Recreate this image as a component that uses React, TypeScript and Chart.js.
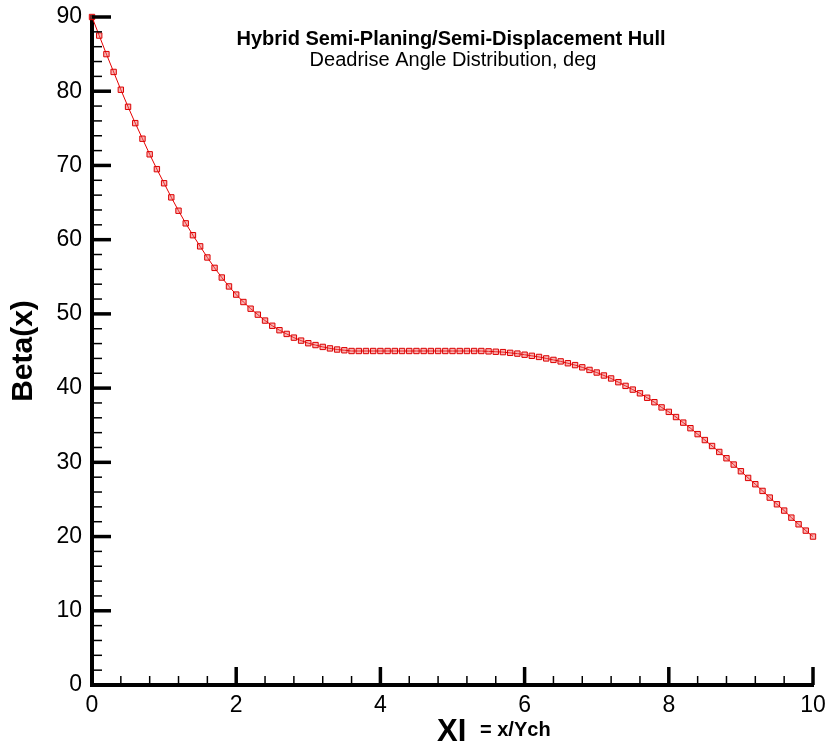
import React, { useEffect, useRef } from "react";
import { Chart, registerables } from "chart.js";

Chart.register(...registerables);

const FONT = "'Liberation Sans', Arial, Helvetica, sans-serif";

const xi = [
  0.0, 0.1, 0.2, 0.3, 0.4, 0.5, 0.6, 0.7, 0.8, 0.9,
  1.0, 1.1, 1.2, 1.3, 1.4, 1.5, 1.6, 1.7, 1.8, 1.9,
  2.0, 2.1, 2.2, 2.3, 2.4, 2.5, 2.6, 2.7, 2.8, 2.9,
  3.0, 3.1, 3.2, 3.3, 3.4, 3.5, 3.6, 3.7, 3.8, 3.9,
  4.0, 4.1, 4.2, 4.3, 4.4, 4.5, 4.6, 4.7, 4.8, 4.9,
  5.0, 5.1, 5.2, 5.3, 5.4, 5.5, 5.6, 5.7, 5.8, 5.9,
  6.0, 6.1, 6.2, 6.3, 6.4, 6.5, 6.6, 6.7, 6.8, 6.9,
  7.0, 7.1, 7.2, 7.3, 7.4, 7.5, 7.6, 7.7, 7.8, 7.9,
  8.0, 8.1, 8.2, 8.3, 8.4, 8.5, 8.6, 8.7, 8.8, 8.9,
  9.0, 9.1, 9.2, 9.3, 9.4, 9.5, 9.6, 9.7, 9.8, 9.9,
  10.0,
];

const beta = [
  90.0, 87.5, 85.0, 82.6, 80.2, 77.9, 75.7, 73.6, 71.5, 69.5,
  67.6, 65.7, 63.9, 62.2, 60.6, 59.1, 57.6, 56.2, 54.9, 53.7,
  52.6, 51.6, 50.7, 49.9, 49.1, 48.4, 47.8, 47.3, 46.8, 46.4,
  46.05, 45.8, 45.55, 45.35, 45.2, 45.1, 45.0, 45.0, 45.0, 45.0,
  45.0, 45.0, 45.0, 45.0, 45.0, 45.0, 45.0, 45.0, 45.0, 45.0,
  45.0, 45.0, 45.0, 45.0, 45.0, 44.95, 44.9, 44.85, 44.75, 44.65,
  44.5, 44.35, 44.2, 44.0, 43.8, 43.6, 43.35, 43.1, 42.8, 42.45,
  42.1, 41.7, 41.3, 40.8, 40.3, 39.8, 39.3, 38.7, 38.1, 37.4,
  36.8, 36.1, 35.35, 34.6, 33.8, 33.0, 32.2, 31.4, 30.55, 29.7,
  28.8, 27.9, 27.05, 26.15, 25.25, 24.35, 23.5, 22.55, 21.65, 20.8,
  20.0,
];

const yTickValues = [0, 10, 20, 30, 40, 50, 60, 70, 80, 90];
const xTickValues = [0, 2, 4, 6, 8, 10];
const yMinorStep = 2;
const xMinorStep = 0.4;

const titleText = "Hybrid Semi-Planing/Semi-Displacement Hull";
const subtitleText = "Deadrise Angle Distribution, deg";
const yTitle = "Beta(x)";
const xTitleMain = "XI";
const xTitleSub = "= x/Ych";

export default function App() {
  const ref = useRef<HTMLCanvasElement>(null);

  useEffect(() => {
    const canvas = ref.current;
    if (!canvas) return;

    const decorPlugin = {
      id: "decor",
      afterDraw(chart: any) {
        const c = chart.ctx as CanvasRenderingContext2D;
        const xs = chart.scales.x;
        const ys = chart.scales.y;
        const { left, bottom } = chart.chartArea;
        c.save();
        c.strokeStyle = "#000";
        c.lineCap = "butt";
        // y ticks (inward)
        for (let k = 0; ; k++) {
          const v = ys.min + k * yMinorStep;
          if (v > ys.max + 1e-9) break;
          const major = yTickValues.some((t) => Math.abs(t - v) < 1e-6);
          const py = ys.getPixelForValue(v);
          c.lineWidth = major ? 3.5 : 1.5;
          c.beginPath();
          c.moveTo(left, py);
          c.lineTo(left + (major ? 19 : 10), py);
          c.stroke();
        }
        // x ticks (inward)
        for (let k = 0; ; k++) {
          const v = xs.min + k * xMinorStep;
          if (v > xs.max + 1e-9) break;
          const major = xTickValues.some((t) => Math.abs(t - v) < 1e-6);
          const px = xs.getPixelForValue(v);
          c.lineWidth = major ? 3.5 : 1.5;
          c.beginPath();
          c.moveTo(px, bottom);
          c.lineTo(px, bottom - (major ? 18 : 9));
          c.stroke();
        }
        // titles
        c.fillStyle = "#000";
        c.textAlign = "center";
        c.textBaseline = "alphabetic";
        c.font = `bold 20px ${FONT}`;
        c.fillText(titleText, 451, 45);
        c.font = `20px ${FONT}`;
        c.fillText(subtitleText, 453, 66);
        // x axis title
        c.textAlign = "left";
        c.font = `bold 31px ${FONT}`;
        c.fillText(xTitleMain, 437, 741);
        c.font = `bold 20px ${FONT}`;
        c.fillText(xTitleSub, 480, 736);
        c.restore();
      },
    };

    const chart = new Chart(canvas, {
      type: "line",
      data: {
        datasets: [
          {
            data: xi.map((x, i) => ({ x, y: beta[i] })),
            borderColor: "rgb(230,0,0)",
            borderWidth: 1,
            pointStyle: "rect",
            pointRadius: 3.8,
            pointBorderWidth: 1,
            pointBorderColor: "rgb(220,0,0)",
            pointBackgroundColor: "rgba(240,90,90,0.45)",
            tension: 0,
            clip: false as any,
          },
        ],
      },
      options: {
        responsive: false,
        animation: false,
        layout: { padding: { left: 0, right: 15, top: 17, bottom: 0 } },
        plugins: {
          legend: { display: false },
          tooltip: { enabled: false },
        },
        scales: {
          x: {
            type: "linear",
            min: 0,
            max: 10,
            afterBuildTicks: (s: any) => {
              s.ticks = xTickValues.map((v) => ({ value: v }));
            },
            afterFit: (s: any) => {
              s.height = 57;
              s.paddingLeft = 0;
              s.paddingRight = 0;
            },
            grid: { display: true, drawOnChartArea: false, drawTicks: false },
            border: { display: true, width: 4, color: "#000" },
            ticks: {
              color: "#000",
              font: { size: 23, family: FONT },
              padding: 7,
              maxRotation: 0,
              autoSkip: false,
            },
          },
          y: {
            type: "linear",
            min: 0,
            max: 90,
            afterBuildTicks: (s: any) => {
              s.ticks = yTickValues.map((v) => ({ value: v }));
            },
            afterFit: (s: any) => {
              s.width = 92;
              s.paddingTop = 0;
              s.paddingBottom = 0;
            },
            grid: { display: true, drawOnChartArea: false, drawTicks: false },
            border: { display: true, width: 4, color: "#000" },
            ticks: {
              color: "#000",
              font: { size: 23, family: FONT },
              padding: 10,
              autoSkip: false,
            },
            title: {
              display: true,
              text: yTitle,
              color: "#000",
              font: { size: 30, weight: "bold", family: FONT },
              padding: { top: 6, bottom: 0 },
            },
          },
        },
      },
      plugins: [decorPlugin],
    });

    return () => chart.destroy();
  }, []);

  return (
    <div style={{ position: "absolute", left: 0, top: 0, width: 828, height: 742, background: "#fff" }}>
      <canvas ref={ref} width={828} height={742} style={{ width: 828, height: 742, display: "block" }} />
    </div>
  );
}
